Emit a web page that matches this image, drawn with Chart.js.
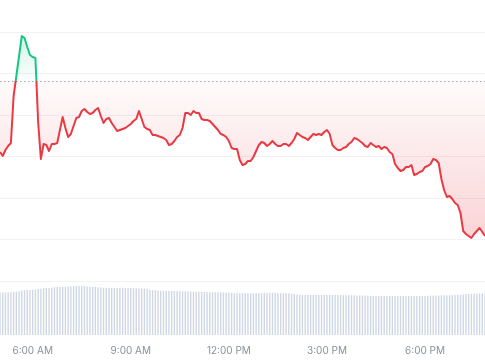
<!DOCTYPE html>
<html>
<head>
    <title>Price chart</title>
    <script src="https://cdn.jsdelivr.net/npm/chart.js"></script>
    <style>
        body { margin: 0; background: #fff; }
    </style>
</head>
<body>
    <canvas id="chart" width="485" height="360"></canvas>

    <script>
        // Time axis: one point every 5 minutes, starting 5:00 AM
        const startMinute = 5 * 60;
        const stepMinutes = 5;
        const tickLabels = ['6:00 AM', '9:00 AM', '12:00 PM', '3:00 PM', '6:00 PM'];

        // Opening price (dotted reference line)
        const openPrice = 12.19;

        // Price (179 points)
        const prices = [
            11.48, 11.44, 11.50, 11.54, 11.57, 12.04, 12.24, 12.44, 12.64, 12.62,
            12.53, 12.45, 12.43, 12.42, 11.78, 11.41, 11.56, 11.55, 11.49, 11.56,
            11.56, 11.57, 11.70, 11.83, 11.72, 11.63, 11.66, 11.74, 11.82, 11.83,
            11.89, 11.91, 11.88, 11.86, 11.87, 11.90, 11.92, 11.84, 11.77, 11.81,
            11.82, 11.77, 11.73, 11.69, 11.70, 11.71, 11.72, 11.74, 11.76, 11.79,
            11.81, 11.89, 11.81, 11.73, 11.71, 11.70, 11.65, 11.65, 11.64, 11.63,
            11.62, 11.60, 11.55, 11.56, 11.59, 11.63, 11.65, 11.72, 11.87, 11.87,
            11.85, 11.89, 11.87, 11.87, 11.81, 11.80, 11.80, 11.79, 11.76, 11.73,
            11.70, 11.66, 11.65, 11.63, 11.59, 11.52, 11.51, 11.51, 11.40, 11.35,
            11.36, 11.39, 11.39, 11.43, 11.49, 11.55, 11.58, 11.57, 11.54, 11.56,
            11.59, 11.56, 11.54, 11.54, 11.56, 11.56, 11.54, 11.57, 11.61, 11.67,
            11.65, 11.63, 11.62, 11.60, 11.63, 11.66, 11.65, 11.66, 11.65, 11.68,
            11.70, 11.66, 11.55, 11.52, 11.50, 11.50, 11.52, 11.53, 11.56, 11.58,
            11.62, 11.61, 11.59, 11.57, 11.54, 11.53, 11.57, 11.55, 11.53, 11.54,
            11.51, 11.53, 11.52, 11.48, 11.46, 11.36, 11.32, 11.29, 11.30, 11.33,
            11.33, 11.35, 11.25, 11.26, 11.28, 11.29, 11.33, 11.34, 11.36, 11.41,
            11.40, 11.37, 11.21, 11.10, 11.03, 11.04, 11.01, 10.97, 10.95, 10.87,
            10.69, 10.66, 10.64, 10.62, 10.66, 10.69, 10.72, 10.68, 10.64
        ];

        // Volume per 5 minutes (M)
        const volumes = [
            4.25, 4.25, 4.26, 4.27, 4.28, 4.30, 4.33, 4.38, 4.45, 4.48,
            4.50, 4.50, 4.52, 4.55, 4.60, 4.62, 4.68, 4.70, 4.70, 4.72,
            4.78, 4.80, 4.80, 4.82, 4.82, 4.85, 4.87, 4.90, 4.92, 4.92,
            4.90, 4.90, 4.85, 4.82, 4.80, 4.80, 4.78, 4.75, 4.72, 4.72,
            4.70, 4.70, 4.70, 4.70, 4.72, 4.72, 4.70, 4.70, 4.70, 4.68,
            4.68, 4.66, 4.65, 4.65, 4.62, 4.52, 4.50, 4.48, 4.45, 4.42,
            4.42, 4.40, 4.40, 4.40, 4.40, 4.40, 4.38, 4.38, 4.38, 4.36,
            4.35, 4.35, 4.33, 4.32, 4.30, 4.30, 4.30, 4.28, 4.28, 4.28,
            4.27, 4.27, 4.25, 4.25, 4.25, 4.22, 4.20, 4.20, 4.18, 4.18,
            4.17, 4.17, 4.17, 4.17, 4.18, 4.20, 4.20, 4.22, 4.23, 4.23,
            4.23, 4.22, 4.20, 4.18, 4.17, 4.17, 4.15, 4.12, 4.10, 4.05,
            4.02, 4.00, 4.00, 4.00, 4.00, 4.00, 4.00, 4.00, 4.00, 4.00,
            4.00, 4.00, 4.00, 4.00, 4.00, 4.00, 3.98, 3.98, 3.98, 3.97,
            3.97, 3.96, 3.95, 3.95, 3.93, 3.92, 3.90, 3.90, 3.90, 3.90,
            3.90, 3.90, 3.90, 3.90, 3.90, 3.90, 3.90, 3.90, 3.90, 3.90,
            3.90, 3.90, 3.90, 3.90, 3.90, 3.90, 3.91, 3.92, 3.93, 3.94,
            3.95, 3.96, 3.97, 3.97, 3.98, 3.98, 3.98, 3.99, 4.00, 4.02,
            4.05, 4.10, 4.12, 4.13, 4.13, 4.14, 4.15, 4.15, 4.15
        ];

        // Horizontal grid lines (price levels)
        const gridPrices = [12.68, 12.265, 11.85, 11.435, 11.02, 10.605, 10.19];

        const green = '22, 199, 132';
        const red = '234, 57, 67';

        function timeLabel(minute) {
            const h = Math.floor(minute / 60);
            const m = minute % 60;
            const h12 = h % 12 === 0 ? 12 : h % 12;
            return h12 + ':' + String(m).padStart(2, '0') + (h < 12 ? ' AM' : ' PM');
        }
        const labels = prices.map((_, i) => timeLabel(startMinute + i * stepMinutes));

        // split position of the open price inside the chart area (0..1)
        function splitAt(chart) {
            const area = chart.chartArea;
            const y = chart.scales.y.getPixelForValue(openPrice);
            return Math.min(1, Math.max(0, (y - area.top) / (area.bottom - area.top)));
        }

        function lineColor(context) {
            const chart = context.chart;
            if (!chart.chartArea) return 'rgb(' + red + ')';
            const { ctx, chartArea } = chart;
            const p = splitAt(chart);
            const g = ctx.createLinearGradient(0, chartArea.top, 0, chartArea.bottom);
            g.addColorStop(0, 'rgb(' + green + ')');
            g.addColorStop(p, 'rgb(' + green + ')');
            g.addColorStop(p, 'rgb(' + red + ')');
            g.addColorStop(1, 'rgb(' + red + ')');
            return g;
        }

        function fillColor(context) {
            const chart = context.chart;
            if (!chart.chartArea) return 'rgba(' + red + ', 0.1)';
            const { ctx, chartArea } = chart;
            const p = splitAt(chart);
            const g = ctx.createLinearGradient(0, chartArea.top, 0, chartArea.bottom);
            g.addColorStop(0, 'rgba(' + green + ', 0.3)');
            g.addColorStop(p, 'rgba(' + green + ', 0.02)');
            g.addColorStop(p, 'rgba(' + red + ', 0.02)');
            g.addColorStop(1, 'rgba(' + red + ', 0.34)');
            return g;
        }

        // dotted line at the opening price
        const openLine = {
            id: 'openLine',
            beforeDatasetsDraw(chart) {
                const { ctx, chartArea } = chart;
                const y = Math.round(chart.scales.y.getPixelForValue(openPrice)) + 0.5;
                ctx.save();
                ctx.strokeStyle = '#a3a8b1';
                ctx.lineWidth = 1;
                ctx.setLineDash([1.5, 2.5]);
                ctx.beginPath();
                ctx.moveTo(chartArea.left, y);
                ctx.lineTo(chartArea.right, y);
                ctx.stroke();
                ctx.restore();
            }
        };

        const ctx = document.getElementById('chart').getContext('2d');
        new Chart(ctx, {
            data: {
                labels: labels,
                datasets: [{
                    type: 'line',
                    data: prices,
                    yAxisID: 'y',
                    order: 0,
                    borderColor: lineColor,
                    backgroundColor: fillColor,
                    borderWidth: 2,
                    borderJoinStyle: 'round',
                    pointRadius: 0,
                    tension: 0,
                    fill: { value: openPrice }
                }, {
                    type: 'bar',
                    data: volumes,
                    yAxisID: 'yv',
                    order: 1,
                    backgroundColor: '#cfd6e4',
                    barPercentage: 0.5,
                    categoryPercentage: 1
                }]
            },
            options: {
                responsive: false,
                animation: false,
                layout: { padding: { left: 0, right: 0, top: 0, bottom: 3 } },
                plugins: {
                    legend: { display: false },
                    tooltip: { enabled: false }
                },
                scales: {
                    x: {
                        offset: false,
                        grid: {
                            display: true,
                            drawOnChartArea: false,
                            drawTicks: true,
                            tickLength: 10,
                            color: 'rgba(0,0,0,0)'
                        },
                        border: { display: false },
                        ticks: {
                            autoSkip: false,
                            maxRotation: 0,
                            padding: 0,
                            color: '#8a919d',
                            font: { family: 'Inter', size: 10 },
                            callback: function (value, index) {
                                const l = labels[index];
                                return tickLabels.includes(l) ? l : '';
                            }
                        }
                    },
                    y: {
                        min: 9.65,
                        max: 13.0,
                        afterBuildTicks: (scale) => {
                            scale.ticks = gridPrices.map(v => ({ value: v }));
                        },
                        grid: { color: '#f1f2f4', drawTicks: false },
                        border: { display: false },
                        ticks: { display: false }
                    },
                    yv: {
                        display: false,
                        min: 0,
                        max: 33.5
                    }
                }
            },
            plugins: [openLine]
        });
    </script>
</body>
</html>
